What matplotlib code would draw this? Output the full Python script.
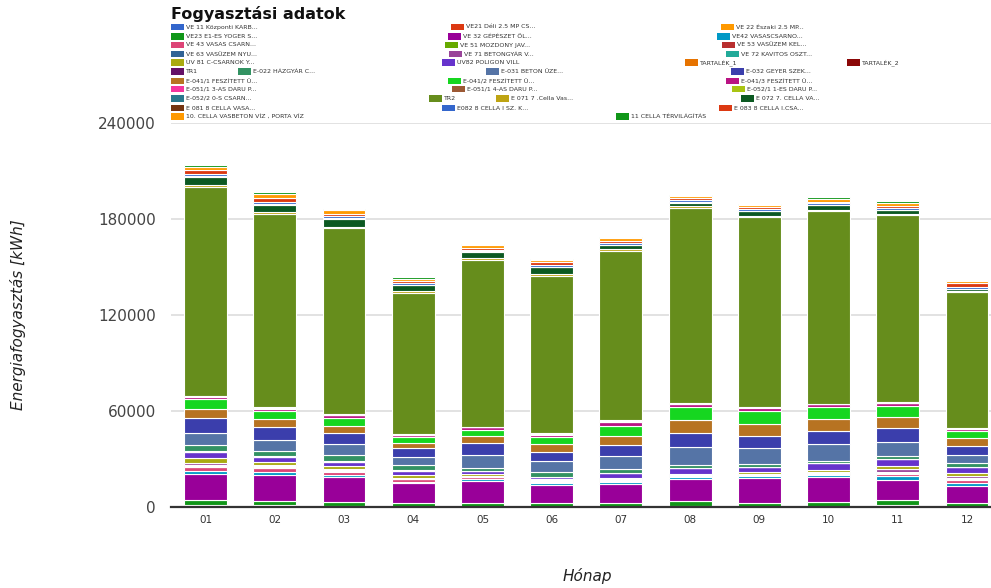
import matplotlib
matplotlib.use("Agg")
import matplotlib.pyplot as plt
from matplotlib.patches import Rectangle
import numpy as np

months = ["01", "02", "03", "04", "05", "06", "07", "08", "09", "10", "11", "12"]

series_names = [
    "VE 11 Központi KARB...", "VE21 Déli 2.5 MP CS...", "VE 22 Északi 2.5 MP...",
    "VE23 E1-ES YOGER S...", "VE 32 GÉPÉSZET ÖL...", "VE42 VASASCSARNO...",
    "VE 43 VASAS CSARN...", "VE 51 MOZDONY JAV...", "VE 53 VASÜZEM KEL...",
    "VE 63 VASÜZEM NYU...", "VE 71 BETONGYÁR V...", "VE 72 KAVITOS OSZT...",
    "UV 81 C-CSARNOK Y...", "UV82 POLIGON VILL", "TARTALÉK_1", "TARTALÉK_2",
    "TR1", "E-022 HÁZGYÁR C...", "E-031 BETON ÜZE...", "E-032 GEYER SZEK...",
    "E-041/1 FESZÍTETT Ü...", "E-041/2 FESZÍTETT Ü...", "E-041/3 FESZÍTETT Ü...",
    "E-051/1 3-AS DARU P...", "E-051/1 4-AS DARU P...", "E-052/1 1-ES DARU P...",
    "E-052/2 0-S CSARN...", "TR2", "E 071 7 .Cella Vas...", "E 072 7. CELLA VA...",
    "E 081 8 CELLA VASA...", "E082 8 CELLA I SZ. K...", "E 083 8 CELLA I.CSA...",
    "10. CELLA VASBETON VÍZ , PORTA VÍZ", "11 CELLA TÉRVILÁGÍTÁS",
]

ve11 = [200, 200, 100, 100, 100, 100, 100, 200, 100, 100, 300, 100]
ve21 = [400, 400, 200, 100, 100, 100, 100, 200, 100, 100, 300, 100]
ve22 = [500, 500, 200, 100, 100, 100, 100, 300, 100, 100, 800, 100]
ve23 = [3100, 2400, 2400, 2200, 2300, 2000, 2100, 2800, 2500, 3100, 2700, 2200]
ve32 = [16500, 16400, 15800, 12200, 13900, 11300, 11900, 14200, 15300, 15600, 12900, 10800]
ve42 = [2000, 2200, 1100, 1200, 1200, 1500, 1600, 1000, 1500, 1300, 2100, 1700]
ve43 = [2200, 2000, 2200, 1300, 900, 600, 600, 400, 400, 600, 1800, 1600]
ve51 = [300, 300, 400, 300, 200, 200, 200, 100, 100, 200, 100, 300]
ve53 = [300, 300, 400, 300, 200, 200, 200, 100, 200, 200, 500, 700]
ve63 = [800, 500, 300, 200, 200, 200, 200, 100, 100, 100, 600, 500]
ve71 = [1300, 700, 600, 300, 200, 200, 200, 200, 200, 300, 1500, 1200]
ve72 = [200, 200, 200, 100, 100, 100, 100, 100, 100, 100, 100, 100]
uv81 = [2600, 2200, 1900, 1900, 1200, 800, 700, 900, 1000, 1500, 1800, 2100]
uv82 = [4000, 3100, 2600, 2400, 1500, 1500, 3000, 3700, 3500, 4300, 4300, 3400]
tartalek1 = [0, 0, 0, 0, 0, 0, 0, 0, 0, 0, 0, 0]
tartalek2 = [0, 0, 0, 0, 0, 0, 0, 0, 0, 0, 0, 0]
tr1 = [400, 300, 200, 200, 200, 100, 100, 100, 100, 100, 100, 100]
e022 = [3700, 3100, 3600, 3100, 2200, 2700, 2300, 1600, 1400, 1200, 1800, 2500]
e031 = [7900, 7300, 7200, 5400, 7900, 7000, 8300, 11400, 10400, 10200, 8700, 5000]
e032 = [9000, 7600, 7000, 5500, 7300, 5600, 7000, 8800, 7300, 8400, 9100, 5700]
e041_1 = [5700, 5100, 4100, 3100, 4400, 5100, 5800, 7900, 7600, 7800, 7000, 5000]
e041_2 = [6100, 5300, 5200, 3600, 3900, 4600, 6300, 8100, 8000, 7300, 6600, 4600]
e041_3 = [1800, 1100, 1500, 1200, 1700, 1300, 2300, 2000, 2000, 1500, 1700, 1000]
e051_3 = [200, 200, 200, 200, 100, 200, 200, 200, 200, 100, 300, 100]
e051_4 = [200, 200, 200, 200, 100, 200, 600, 200, 200, 200, 100, 100]
e052_1 = [100, 100, 100, 100, 100, 100, 100, 100, 100, 100, 100, 100]
e052_2 = [100, 600, 200, 300, 100, 200, 300, 300, 200, 100, 100, 100]
tr2 = [130600, 120600, 116300, 88400, 104200, 98600, 105800, 122100, 118600, 120200, 117100, 85200]
e071 = [1200, 1600, 1000, 800, 1200, 1300, 950, 1000, 750, 550, 600, 400]
e072 = [4700, 4300, 4900, 3800, 3800, 3900, 2400, 2000, 2700, 3100, 2400, 1500]
e081 = [700, 700, 500, 400, 300, 400, 300, 300, 300, 300, 300, 200]
e082 = [1200, 1300, 1000, 1000, 1200, 1200, 1100, 1200, 1100, 1000, 1000, 800]
e083 = [2900, 2600, 1750, 1300, 1100, 1600, 1600, 1300, 1500, 1000, 1400, 2900]
cella10 = [1800, 2300, 2000, 1500, 1600, 1400, 1500, 1500, 1300, 1900, 2000, 1200]
cella11 = [1200, 1000, 900, 700, 800, 600, 700, 600, 500, 1100, 800, 500]

series_values = [ve11, ve21, ve22, ve23, ve32, ve42, ve43, ve51, ve53, ve63, ve71, ve72,
                 uv81, uv82, tartalek1, tartalek2, tr1, e022, e031, e032, e041_1, e041_2,
                 e041_3, e051_3, e051_4, e052_1, e052_2, tr2, e071, e072, e081, e082,
                 e083, cella10, cella11]

palette = ["#3366cc", "#dc3912", "#ff9900", "#109618", "#990099", "#0099c6", "#dd4477",
           "#66aa00", "#b82e2e", "#316395", "#994499", "#22aa99", "#aaaa11", "#6633cc",
           "#e67300", "#8b0707", "#651067", "#329262", "#5574a6", "#3b3eac", "#b77322",
           "#16d620", "#b91383", "#f4359e", "#9c5935", "#a9c413", "#2a778d", "#668d1c",
           "#bea413", "#0c5922", "#743411", "#3366cc", "#dc3912", "#ff9900", "#109618"]

# legend layout: (patch left x px, row center y px)
legend_pos = [
    (171, 27), (451, 27), (721, 27),
    (171, 36.5), (448, 36.5), (717, 36.5),
    (171, 45), (445, 45), (722, 45),
    (171, 54), (449, 54), (726, 54),
    (171, 62.3), (442, 62.3), (685, 62.3), (847, 62.3),
    (171, 71.7), (238, 71.7), (486, 71.7), (731, 71.7),
    (171, 81), (448, 81), (726, 81),
    (171, 89.2), (452, 89.2), (732, 89.2),
    (171, 98.5), (429, 98.5), (496, 98.5), (741, 98.5),
    (171, 108.2), (442, 108.2), (719, 108.2),
    (171, 116.5), (616, 116.5),
]

W, H = 991, 588
fig = plt.figure(figsize=(W / 100, H / 100), dpi=100)

ax_left, ax_right, ax_top, ax_bottom = 171, 1001.6, 123, 507
ax = fig.add_axes([ax_left / W, (H - ax_bottom) / H, (ax_right - ax_left) / W, (ax_bottom - ax_top) / H])

x = np.arange(len(months))
bottom = np.zeros(len(months))
for vals, col in zip(series_values, palette):
    v = np.array(vals, dtype=float)
    ax.bar(x, v, width=0.62, bottom=bottom, color=col, edgecolor="white", linewidth=0.8, zorder=3)
    bottom += v

ax.set_xlim(-0.5, 11.5)
ax.set_ylim(0, 240000)
ax.set_yticks([0, 60000, 120000, 180000, 240000])
ax.set_yticklabels(["0", "60000", "120000", "180000", "240000"])
ax.set_xticks(x)
ax.set_xticklabels(months)
ax.grid(axis="y", color="#dddddd", linewidth=1.2, zorder=0)
ax.set_axisbelow(True)
for s in ["left", "right", "top"]:
    ax.spines[s].set_visible(False)
ax.spines["bottom"].set_color("#333333")
ax.spines["bottom"].set_linewidth(1.6)
ax.spines["bottom"].set_zorder(5)
ax.tick_params(axis="y", length=0, pad=11, labelsize=11, labelcolor="#444444")
ax.tick_params(axis="x", length=0, pad=6, labelsize=7.5, labelcolor="#333333")

fig.text(18 / W, 1 - 315 / H, "Energiafogyasztás [kWh]", rotation=90, ha="center", va="center",
         fontsize=11, style="italic", color="#222222")
fig.text(587 / W, 1 - 576 / H, "Hónap", ha="center", va="center", fontsize=11,
         style="italic", color="#222222")
fig.text(171 / W, 1 - 14 / H, "Fogyasztási adatok", ha="left", va="center", fontsize=11.5,
         fontweight="bold", color="#111111")

ov = fig.add_axes([0, 0, 1, 1])
ov.set_xlim(0, W)
ov.set_ylim(H, 0)
ov.axis("off")
for (px, py), name, col in zip(legend_pos, series_names, palette):
    ov.add_patch(Rectangle((px, py - 3.3), 13, 6.6, facecolor=col, edgecolor="none"))
    ov.text(px + 15, py, name, ha="left", va="center", fontsize=4.5, color="#333333")

fig.savefig("out.png", dpi=100)
